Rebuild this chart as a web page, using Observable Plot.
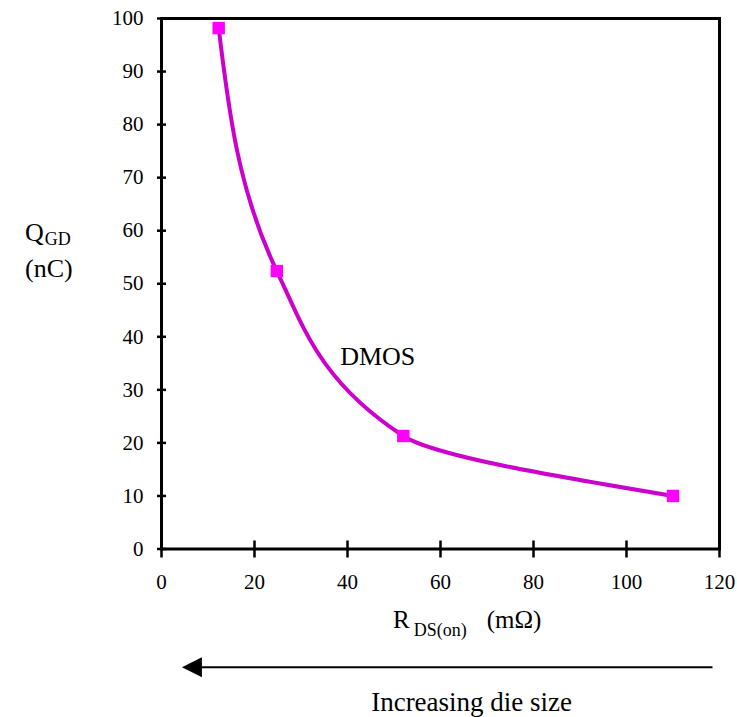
<!DOCTYPE html>
<html>
<head>
<meta charset="utf-8">
<script src="https://cdn.jsdelivr.net/npm/d3@7"></script>
<script src="https://cdn.jsdelivr.net/npm/@observablehq/plot@0.6"></script>
<style>
  html, body { margin: 0; padding: 0; background: #fff; }
  svg text { font-family: "Liberation Serif", "Times New Roman", serif; }
</style>
</head>
<body>
<div id="chart"></div>
<script>
// Data
const rdson = [12.3, 24.8, 52, 110];
const qgd = [98.2, 52.4, 21.3, 10];
const xTicks = [0, 20, 40, 60, 80, 100, 120];
const yTicks = [0, 10, 20, 30, 40, 50, 60, 70, 80, 90, 100];
const seriesLabel = ["DMOS"];
const labelX = [46.5];
const labelY = [36.3];
const arrowX = [118.6, 4.5];     // arrow from right to left, in x units
const arrowY = [-22.4];          // below the axis, in y units
const xTitleX = [49.9];
const captionX = [66.8];
const captionText = "Increasing die size";

const data = rdson.map((x, i) => ({ x, y: qgd[i] }));

const W = 737, H = 717;
const mL = 161, mR = 18, mT = 18, mB = H - 548.5;
const innerW = W - mL - mR, innerH = H - mT - mB;

const chart = Plot.plot({
  width: W,
  height: H,
  marginLeft: mL,
  marginRight: mR,
  marginTop: mT,
  marginBottom: mB,
  style: { fontFamily: "Liberation Serif, Times New Roman, serif", fontSize: "21px", color: "#000", background: "#fff", overflow: "visible" },
  x: { domain: [0, 120], ticks: xTicks, label: null },
  y: { domain: [0, 100], ticks: yTicks, label: null },
  marks: [
    // inward halves of the crossing ticks
    Plot.tickY(yTicks, { y: d => d, insetRight: innerW - 5, stroke: "#000", strokeWidth: 2.5 }),
    Plot.tickX(xTicks, { x: d => d, insetTop: innerH - 8, stroke: "#000", strokeWidth: 2.5 }),
    Plot.frame({ stroke: "#000", strokeWidth: 3 }),
    Plot.axisX({ ticks: xTicks, tickSize: 9, tickPadding: 16, stroke: "#000", strokeWidth: 2.5, fontSize: 21, label: null }),
    Plot.axisY({ ticks: yTicks, tickSize: 4, tickPadding: 14, stroke: "#000", strokeWidth: 2.5, fontSize: 21, label: null }),
    Plot.line(data, { x: "x", y: "y", curve: "monotone-y", stroke: "#CC00CC", strokeWidth: 4 }),
    Plot.dot(data, { x: "x", y: "y", symbol: "square", r: 7, fill: "#FF00FF", stroke: "none" }),
    Plot.text(seriesLabel, { x: labelX, y: labelY, text: d => d, fontSize: 26, fill: "#000" })
  ]
});
document.getElementById("chart").appendChild(chart);

// Annotations placed through the chart's own scales
const svg = d3.select(chart);
const sx = chart.scale("x"), sy = chart.scale("y");
const xr = sx.apply(arrowX[0]), xl = sx.apply(arrowX[1]);
const ay = sy.apply(arrowY[0]);

// X axis title with subscript
const xt = svg.append("text")
  .attr("x", sx.apply(xTitleX[0]))
  .attr("y", 628)
  .attr("text-anchor", "start")
  .attr("font-size", 25)
  .attr("fill", "#000");
xt.append("tspan").text("R");
xt.append("tspan").attr("dx", 4).attr("dy", 8).attr("font-size", 18).text("DS(on)");
xt.append("tspan").attr("dx", 20).attr("dy", -8).text("(mΩ)");

// Y axis title with subscript
const yt = svg.append("text").attr("x", 25).attr("y", 241).attr("text-anchor", "start")
  .attr("font-size", 26).attr("fill", "#000");
yt.append("tspan").text("Q");
yt.append("tspan").attr("dx", 1).attr("dy", 4).attr("font-size", 18).text("GD");
svg.append("text").attr("x", 25).attr("y", 277).attr("text-anchor", "start")
  .attr("font-size", 26).attr("fill", "#000").text("(nC)");

// Arrow
svg.append("line").attr("x1", xr).attr("y1", ay).attr("x2", xl + 18).attr("y2", ay)
  .attr("stroke", "#000").attr("stroke-width", 2);
svg.append("path")
  .attr("d", `M${xl},${ay} L${xl + 20},${ay - 10} L${xl + 20},${ay + 10} Z`)
  .attr("fill", "#000");

// Caption
svg.append("text").attr("x", sx.apply(captionX[0])).attr("y", 711)
  .attr("text-anchor", "middle").attr("font-size", 27).attr("fill", "#000").text(captionText);
</script>
</body>
</html>
